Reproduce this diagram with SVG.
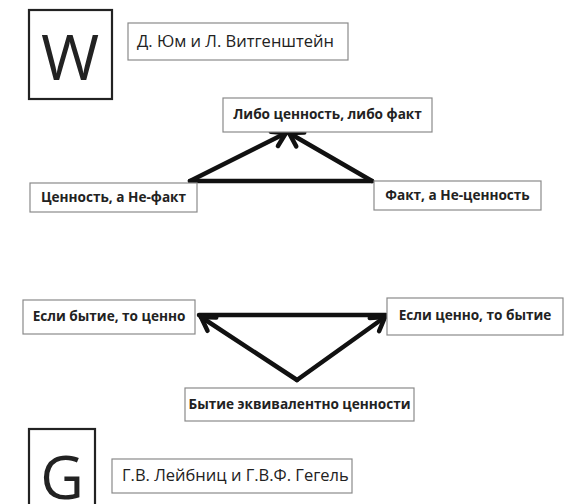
<svg xmlns="http://www.w3.org/2000/svg" width="575" height="504" viewBox="0 0 575 504">
<style>
.bg{fill:#fff}
.lbl{fill:#fff;stroke:#8a8a8a;stroke-width:1.2}
.big{fill:#fff;stroke:#222;stroke-width:2.2}
.t{font-family:"Open Sans","Noto Sans","Liberation Sans",sans-serif;font-weight:700;font-size:13.6px;fill:#222;text-anchor:middle}
.n{font-family:"Open Sans","Noto Sans","Liberation Sans",sans-serif;font-size:16.5px;fill:#222}
.L{font-family:"Open Sans","Noto Sans","Liberation Sans",sans-serif;font-weight:400;fill:#222;text-anchor:middle}
.c{stroke:#111;stroke-width:4.5;fill:none;stroke-linecap:round}
</style>
<defs>
<marker id="ah" markerUnits="userSpaceOnUse" viewBox="-16 -10 20 20" refX="0" refY="0" markerWidth="20" markerHeight="20" orient="auto" overflow="visible">
<path d="M -13 -8 L 0 0 L -13 8" fill="none" stroke="#111" stroke-width="4.5" stroke-linejoin="miter" stroke-linecap="round"/>
</marker>
</defs>
<rect class="bg" x="0" y="0" width="575" height="504"/>

<g id="W">
<rect class="big" x="29" y="10" width="83" height="89"/>
<text class="L" x="70" y="80" font-size="63">W</text>
</g>
<g id="name1">
<rect class="lbl" x="128" y="23" width="220" height="37"/>
<text class="n" x="137" y="47">Д. Юм и Л. Витгенштейн</text>
</g>

<g id="connectors">
<line class="c" x1="190" y1="181" x2="372" y2="181"/>
<line class="c" x1="190" y1="181" x2="286" y2="133" marker-end="url(#ah)"/>
<line class="c" x1="372" y1="181" x2="289" y2="133" marker-end="url(#ah)"/>
<line class="c" x1="199" y1="315" x2="386" y2="315"/>
<line class="c" x1="297" y1="380" x2="201" y2="317" marker-end="url(#ah)"/>
<line class="c" x1="297" y1="380" x2="385" y2="317" marker-end="url(#ah)"/>
</g>

<g id="top">
<rect class="lbl" x="223" y="98" width="209" height="34"/>
<text class="t" x="327.5" y="119">Либо ценность, либо факт</text>
</g>
<g id="left1">
<rect class="lbl" x="30" y="183" width="167" height="29"/>
<text class="t" x="113.5" y="202">Ценность, а Не-факт</text>
</g>
<g id="right1">
<rect class="lbl" x="374" y="181" width="167" height="29"/>
<text class="t" x="457.5" y="200">Факт, а Не-ценность</text>
</g>

<g id="left2">
<rect class="lbl" x="23" y="300" width="172" height="34"/>
<text class="t" x="109" y="321">Если бытие, то ценно</text>
</g>
<g id="right2">
<rect class="lbl" x="387" y="298" width="176" height="37"/>
<text class="t" x="475" y="320">Если ценно, то бытие</text>
</g>
<g id="bottom">
<rect class="lbl" x="185" y="388" width="229" height="33"/>
<text class="t" x="299.5" y="409">Бытие эквивалентно ценности</text>
</g>

<g id="G">
<rect class="big" x="29" y="429" width="66" height="90"/>
<text class="L" x="62" y="499" font-size="60">G</text>
</g>
<g id="name2">
<rect class="lbl" x="112" y="459" width="240" height="34"/>
<text class="n" x="122" y="481">Г.В. Лейбниц и Г.В.Ф. Гегель</text>
</g>
</svg>
